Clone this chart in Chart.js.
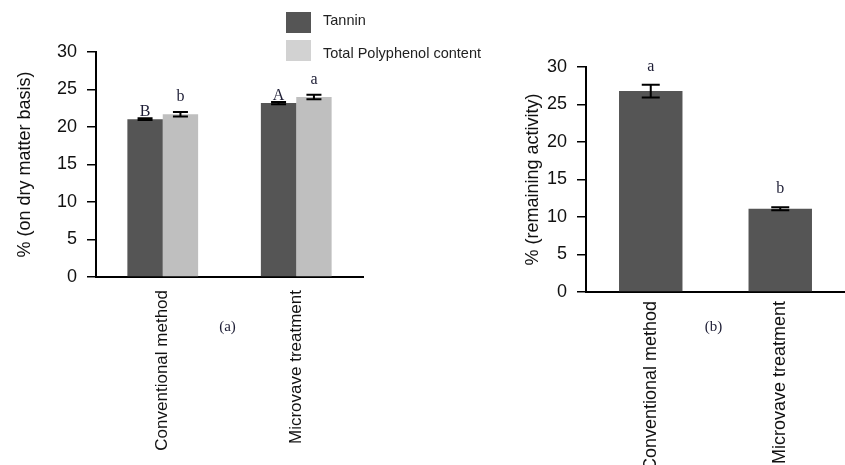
<!DOCTYPE html>
<html>
<head>
<meta charset="utf-8">
<script src="https://cdn.jsdelivr.net/npm/chart.js@4.4.0/dist/chart.umd.min.js"></script>
<style>
body { margin:0; background:#fff; width:845px; height:465px; overflow:hidden; position:relative; }
canvas { position:absolute; top:0; }
#chartA { left:0; }
#chartB { left:490px; }
</style>
</head>
<body>
<canvas id="chartA" width="490" height="465"></canvas>
<canvas id="chartB" width="355" height="465"></canvas>
<script>
var categories = ['Conventional method', 'Microvave treatment'];
var yTicks = [0, 5, 10, 15, 20, 25, 30];

// (a) tannin and polyphenol
var tannin = [21.05, 23.2];
var tanninErr = [0.12, 0.15];
var tanninLetters = ['B', 'A'];
var polyphenol = [21.7, 24.0];
var polyphenolErr = [0.3, 0.3];
var polyphenolLetters = ['b', 'a'];

// (b) remaining activity
var activity = [26.8, 11.1];
var activityErr = [0.85, 0.2];
var activityLetters = ['a', 'b'];

var sans = "'Liberation Sans', Arial, sans-serif";
var serif = "'Liberation Serif', 'Times New Roman', serif";

// error bars, letters over them and the (a)/(b) caption
var errorBars = {
  id: 'errorBars',
  afterDatasetsDraw: function(chart, args, opts) {
    var ctx = chart.ctx, y = chart.scales.y, x = chart.scales.x;
    ctx.save();
    chart.data.datasets.forEach(function(ds, i) {
      var meta = chart.getDatasetMeta(i);
      meta.data.forEach(function(bar, j) {
        var top = y.getPixelForValue(ds.data[j] + ds.errors[j]);
        var bot = y.getPixelForValue(ds.data[j] - ds.errors[j]);
        var c = opts.cap / 2;
        ctx.strokeStyle = '#000';
        ctx.lineWidth = 2;
        ctx.beginPath();
        ctx.moveTo(bar.x, top); ctx.lineTo(bar.x, bot);
        ctx.moveTo(bar.x - c, top); ctx.lineTo(bar.x + c, top);
        ctx.moveTo(bar.x - c, bot); ctx.lineTo(bar.x + c, bot);
        ctx.stroke();
        ctx.fillStyle = '#1d1d35';
        ctx.font = '16px ' + serif;
        ctx.textAlign = 'center';
        ctx.textBaseline = 'alphabetic';
        ctx.fillText(ds.letters[j], bar.x, top - ds.letterGap);
      });
    });
    var cx = (x.getPixelForValue(0) + x.getPixelForValue(1)) / 2;
    ctx.fillStyle = '#1d1d35';
    ctx.font = '15px ' + serif;
    ctx.textAlign = 'center';
    ctx.textBaseline = 'middle';
    ctx.fillText(opts.caption, cx - 2, 327);
    ctx.restore();
  }
};

// vertical legend in the top right of chart (a)
var boxLegend = {
  id: 'boxLegend',
  afterDraw: function(chart, args, opts) {
    if (!opts.show) return;
    var ctx = chart.ctx;
    ctx.save();
    chart.data.datasets.forEach(function(ds, i) {
      ctx.fillStyle = ds.legendColor;
      ctx.fillRect(286, 12 + i * 28, 25, 21);
      ctx.fillStyle = '#222';
      ctx.font = '14.5px ' + sans;
      ctx.textBaseline = 'middle';
      ctx.fillText(ds.label, 323, 21 + i * 33);
    });
    ctx.restore();
  }
};

function axes(o) {
  return {
    x: {
      grid: { display: false },
      border: { display: true, color: '#000', width: 2 },
      ticks: {
        color: '#111', autoSkip: false, minRotation: 90, maxRotation: 90, padding: o.xPad,
        font: { family: sans, size: o.xFont }
      },
      afterFit: function(s) { s.height = 465 - o.bottom; }
    },
    y: {
      min: 0, max: 30,
      afterBuildTicks: function(s) { s.ticks = yTicks.map(function(v) { return { value: v }; }); },
      grid: { drawOnChartArea: false, color: '#000', lineWidth: 1.5, tickLength: 9 },
      border: { color: '#000', width: 2 },
      ticks: { color: '#111', padding: 10, font: { family: sans, size: 18 } },
      title: {
        display: true, text: o.title, color: '#111',
        padding: { top: o.titlePad, bottom: 0 },
        font: { family: sans, size: 18 }
      },
      afterFit: function(s) { s.width = 96; }
    }
  };
}

new Chart(document.getElementById('chartA'), {
  type: 'bar',
  data: {
    labels: categories,
    datasets: [
      { label: 'Tannin', data: tannin, errors: tanninErr, letters: tanninLetters, letterGap: 2,
        backgroundColor: '#555555', legendColor: '#555555', categoryPercentage: 0.53, barPercentage: 1 },
      { label: 'Total Polyphenol content', data: polyphenol, errors: polyphenolErr, letters: polyphenolLetters, letterGap: 11,
        backgroundColor: '#bfbfbf', legendColor: '#d2d2d2', categoryPercentage: 0.53, barPercentage: 1 }
    ]
  },
  options: {
    responsive: false, animation: false,
    layout: { padding: { top: 52, right: 127, left: 0, bottom: 0 } },
    scales: axes({ bottom: 277, xPad: 5, xFont: 17, title: '% (on dry matter basis)', titlePad: 14 }),
    plugins: {
      legend: { display: false }, tooltip: { enabled: false },
      errorBars: { cap: 15, caption: '(a)' },
      boxLegend: { show: true }
    }
  },
  plugins: [errorBars, boxLegend]
});

new Chart(document.getElementById('chartB'), {
  type: 'bar',
  data: {
    labels: categories,
    datasets: [
      { label: 'Remaining activity', data: activity, errors: activityErr, letters: activityLetters, letterGap: 14,
        backgroundColor: '#555555', legendColor: '#555555', categoryPercentage: 1, barPercentage: 0.49 }
    ]
  },
  options: {
    responsive: false, animation: false,
    layout: { padding: { top: 67, right: 0, left: 0, bottom: 0 } },
    scales: axes({ bottom: 292, xPad: 1, xFont: 18, title: '% (remaining activity)', titlePad: 32 }),
    plugins: {
      legend: { display: false }, tooltip: { enabled: false },
      errorBars: { cap: 18, caption: '(b)' },
      boxLegend: { show: false }
    }
  },
  plugins: [errorBars, boxLegend]
});
</script>
</body>
</html>
